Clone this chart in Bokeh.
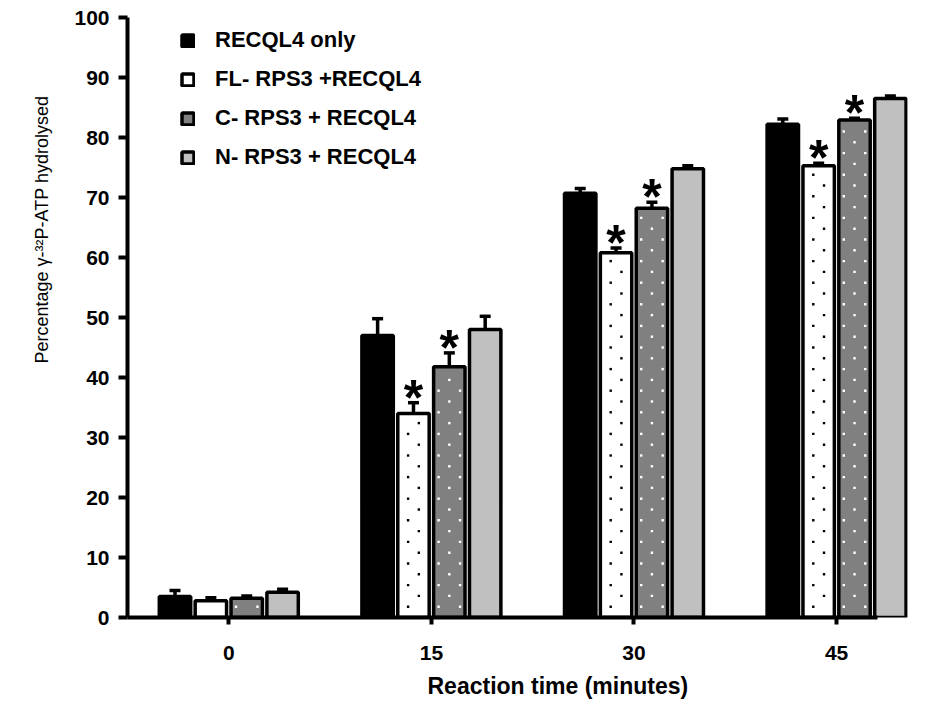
from bokeh.plotting import figure
from bokeh.models import (ColumnDataSource, FixedTicker, Whisker, TeeHead, Title,
                          Legend, LegendItem, Range1d)
from bokeh.core.properties import value
from bokeh.embed import file_html
from bokeh.resources import INLINE

# ---- data ----
times = ["0", "15", "30", "45"]
series = ["RECQL4 only", "FL- RPS3 +RECQL4", "C- RPS3 + RECQL4", "N- RPS3 + RECQL4"]
recql4_only = [3.5, 47.0, 70.7, 82.2]
recql4_only_err = [1.0, 2.8, 0.8, 0.9]
fl_rps3 = [2.8, 34.0, 60.8, 75.3]
fl_rps3_err = [0.5, 1.8, 0.8, 0.4]
c_rps3 = [3.2, 41.8, 68.2, 82.9]
c_rps3_err = [0.4, 2.3, 1.0, 0.3]
n_rps3 = [4.2, 48.0, 74.8, 86.5]
n_rps3_err = [0.5, 2.2, 0.5, 0.4]
# significance stars (series index, time index)
stars = [(1, 1), (2, 1), (1, 2), (2, 2), (1, 3), (2, 3)]

values = [recql4_only, fl_rps3, c_rps3, n_rps3]
errors = [recql4_only_err, fl_rps3_err, c_rps3_err, n_rps3_err]

# ---- style ----
fills = ["#000000", "#ffffff", "#808080", "#c0c0c0"]
dot_colors = [None, "black", "white", None]     # dotted fill pattern
dot_phase = [0, 0.5, 0.0, 0]                    # column phase of the dot lattice
FONT = "Liberation Sans"
bar_w = 0.155
step = 0.177
offsets = [(-1.5 + i) * step for i in range(4)]
dot_dx = 0.053    # horizontal lattice pitch (data units)
dot_dy = 1.8      # vertical lattice pitch (data units)

p = figure(output_backend="svg", toolbar_location=None,
           frame_width=780, frame_height=600,
           min_border_left=127, min_border_right=3,
           min_border_top=17, min_border_bottom=78,
           x_range=Range1d(-0.5, 3.35), y_range=Range1d(0, 100))
p.outline_line_color = None
p.grid.visible = False
p.background_fill_color = "white"

legend_items = []
for i in range(4):
    xs = [k + offsets[i] for k in range(len(times))]
    src = ColumnDataSource(dict(x=xs, top=values[i],
                                upper=[v + e for v, e in zip(values[i], errors[i])],
                                lower=[v - e for v, e in zip(values[i], errors[i])]))
    r = p.vbar(x="x", top="top", bottom=0, width=bar_w, source=src,
               fill_color=fills[i], line_color="black", line_width=3.5)
    legend_items.append(LegendItem(label=series[i], renderers=[r]))
    # dotted pattern inside bars
    if dot_colors[i]:
        dx, dy = [], []
        for k, (xc, top) in enumerate(zip(xs, values[i])):
            row = 1
            while row * dot_dy < top - 1.0:
                j = -3
                while j <= 3:
                    col = j + dot_phase[i]
                    if (j + row) % 2 == 0 and abs(col * dot_dx) < bar_w / 2 - 0.012:
                        dx.append(xc + col * dot_dx)
                        dy.append(row * dot_dy)
                    j += 1
                row += 1
        p.scatter(x=dx, y=dy, marker="square", size=2.4, line_color=None,
                  fill_color=dot_colors[i])
    w = Whisker(base="x", upper="upper", lower="lower", source=src,
                line_color="black", line_width=3.5,
                upper_head=TeeHead(size=11, line_width=3.5, line_color="black"),
                lower_head=TeeHead(size=11, line_width=3.5, line_color="black"))
    p.add_layout(w)

# stars
sx = [k + offsets[s] for s, k in stars]
sy = [values[s][k] + errors[s][k] for s, k in stars]
p.text(x=sx, y=sy, text=["*"] * len(sx), text_align="center",
       text_baseline="middle", y_offset=-5, text_font=value(FONT),
       text_font_style="bold", text_font_size="50px", text_color="black")

legend = Legend(items=legend_items, location=(53, 447),
                glyph_width=15, glyph_height=15, label_height=20,
                spacing=13, padding=0, margin=0,
                label_text_font=FONT, label_text_font_style="bold",
                label_text_font_size="22px", label_standoff=20,
                label_text_color="black",
                border_line_color=None, background_fill_alpha=0)
p.add_layout(legend)

# axes
for ax in (p.xaxis[0], p.yaxis[0]):
    ax.axis_line_width = 4
    ax.major_tick_line_width = 4
    ax.major_tick_in = 0
    ax.minor_tick_line_color = None
    ax.major_label_text_font = FONT
    ax.major_label_text_font_style = "bold"
    ax.major_label_text_font_size = "21px"
    ax.major_label_text_color = "black"

p.yaxis.ticker = FixedTicker(ticks=list(range(0, 101, 10)))
p.yaxis.major_tick_out = 9
p.yaxis.major_label_standoff = 9
p.xaxis.ticker = FixedTicker(ticks=list(range(len(times))))
p.xaxis.major_label_overrides = {k: t for k, t in enumerate(times)}
p.xaxis.major_tick_out = 7
p.xaxis.major_label_standoff = 21
p.xaxis.bounds = (-0.5, 3.2)

p.add_layout(Title(text="Reaction time (minutes)", align="left", offset=300,
                   text_font=FONT, text_font_style="bold", text_font_size="23px",
                   text_color="black", standoff=17), "below")
p.add_layout(Title(text="Percentage \u03b3-\u00b3\u00b2P-ATP hydrolysed", align="left",
                   offset=254, text_font=FONT, text_font_style="normal",
                   text_font_size="18px", text_color="black", standoff=40), "left")

open("out.html", "w").write(file_html(p, INLINE))
